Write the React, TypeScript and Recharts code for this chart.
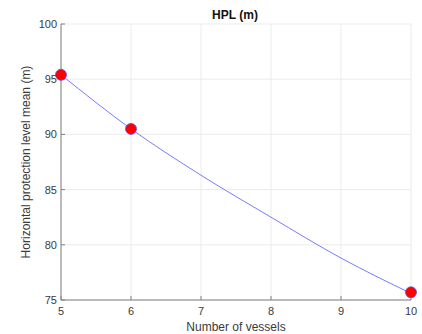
import { Line, XAxis, YAxis, CartesianGrid, Scatter, ComposedChart } from "recharts"

const vessels = [5, 6, 7, 8, 9, 10]
const hplFit = [95.4, 90.5, 86.3, 82.5, 78.8, 75.6]
const measuredVessels = [5, 6, 10]
const measuredHpl = [95.4, 90.5, 75.7]
const xTicks = [5, 6, 7, 8, 9, 10]
const yTicks = [75, 80, 85, 90, 95, 100]

const fitData = vessels.map((v, i) => ({ x: v, y: hplFit[i] }))
const pointData = measuredVessels.map((v, i) => ({ x: v, y: measuredHpl[i] }))

const FONT = "'Liberation Sans', Arial, sans-serif"
const tickStyle = { fontSize: 11, fill: "#3a3a3a", fontFamily: FONT }

export default function App() {
  return (
    <div style={{ position: "absolute", left: 0, top: 0, width: 422, height: 334, background: "#fff" }}>
      <ComposedChart width={422} height={334} margin={{ top: 24, right: 11, bottom: 0, left: 0 }}>
        <CartesianGrid stroke="#ebebeb" xAxisId="bottom" yAxisId="left" />
        <XAxis
          xAxisId="bottom"
          type="number"
          dataKey="x"
          domain={[5, 10]}
          ticks={xTicks}
          height={34}
          stroke="#808080"
          tickSize={-4}
          tickMargin={11}
          tick={tickStyle}
        />
        <XAxis xAxisId="top" orientation="top" type="number" domain={[5, 10]} ticks={xTicks} height={0} stroke="#808080" tickSize={-4} tick={false} />
        <YAxis
          yAxisId="left"
          type="number"
          dataKey="y"
          domain={[75, 100]}
          ticks={yTicks}
          width={61}
          stroke="#808080"
          tickSize={-4}
          tickMargin={8}
          tick={tickStyle}
        />
        <YAxis yAxisId="right" orientation="right" type="number" domain={[75, 100]} ticks={yTicks} width={0} stroke="#808080" tickSize={-4} tick={false} />
        <Line
          xAxisId="bottom"
          yAxisId="left"
          data={fitData}
          dataKey="y"
          type="monotone"
          stroke="#7a7aff"
          strokeWidth={1}
          dot={false}
          isAnimationActive={false}
        />
        <Scatter
          xAxisId="bottom"
          yAxisId="left"
          data={pointData}
          dataKey="y"
          fill="#ff0000"
          shape={(p: any) => <circle cx={p.cx} cy={p.cy} r={5.5} fill="#ff0000" stroke="#5050ff" strokeWidth={0.8} />}
          isAnimationActive={false}
        />
        <text x={235} y={19} textAnchor="middle" fontFamily={FONT} fontSize={12} fontWeight="bold" fill="#111">HPL (m)</text>
        <text x={236} y={331} textAnchor="middle" fontFamily={FONT} fontSize={12} fill="#3a3a3a">Number of vessels</text>
        <text x={30} y={162} textAnchor="middle" fontFamily={FONT} fontSize={12} fill="#3a3a3a" transform="rotate(-90 30 162)">Horizontal protection level mean (m)</text>
      </ComposedChart>
    </div>
  )
}
